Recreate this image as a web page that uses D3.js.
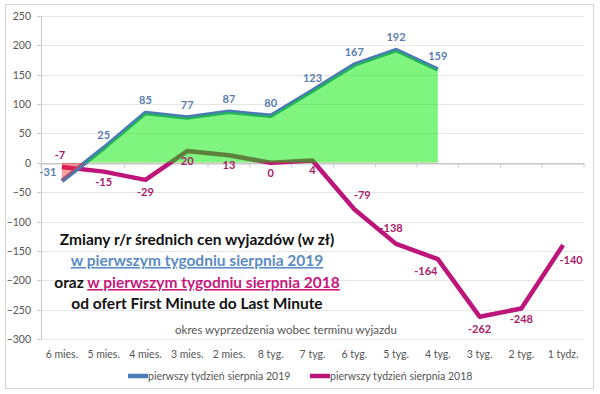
<!DOCTYPE html>
<html><head><meta charset="utf-8">
<script src="https://cdn.jsdelivr.net/npm/d3@7"></script>
<style>
html,body{margin:0;padding:0;background:#fff;}
svg{display:block;font-family:Lato,"Liberation Sans",sans-serif;}
</style></head>
<body><svg id="c" width="600" height="394"></svg>
<script>
const categories = ["6 mies.","5 mies.","4 mies.","3 mies.","2 mies.","8 tyg.","7 tyg.","6 tyg.","5 tyg.","4 tyg.","3 tyg.","2 tyg.","1 tydz."];
const values2019 = [-31,25,85,77,87,80,123,167,192,159];
const values2018 = [-7,-15,-29,20,13,0,4,-79,-138,-164,-262,-248,-140];
const yTicks = [250,200,150,100,50,0,-50,-100,-150,-200,-250,-300];
const seriesNames = ["pierwszy tydzień sierpnia 2019","pierwszy tydzień sierpnia 2018"];
// label placement (dx, dy) for labels
const off2018 = [[-2,-8],[0,14],[0,16],[0,14],[0,14],[0,14],[0,14],[8,-10],[-5,-12],[-12,16],[0,16],[0,15],[8,19]];
const off2019 = [[-14,-5],[0,-9],[0,-9],[0,-9],[0,-9],[0,-9],[0,-9],[0,-9],[0,-9],[0,-9]];

const blue = "#4a7ab5", mag = "#bd157a";
const svg = d3.select("#c");
svg.append("rect").attr("x",5.5).attr("y",4.5).attr("width",588).attr("height",384)
  .attr("fill","#fff").attr("stroke","#d4d4d4");

const x = d3.scaleBand().domain(categories).range([41,584]);
const y = d3.scaleLinear().domain([-300,250]).range([339,16]);
const cx = i => x(categories[i]) + x.bandwidth()/2;

// gridlines
svg.append("g").selectAll("line").data(yTicks).join("line")
  .attr("x1",41).attr("x2",584).attr("y1",d=>Math.round(y(d))+0.5).attr("y2",d=>Math.round(y(d))+0.5)
  .attr("stroke",d=>d===0?"#c8c8c8":"#e6e6e6");

// y axis
const ya = svg.append("g").attr("transform","translate(41,0)")
  .call(d3.axisLeft(y).tickValues(yTicks).tickSize(4).tickPadding(6));
ya.select(".domain").attr("stroke","#c8c8c8");
ya.selectAll(".tick line").attr("stroke","#c8c8c8");
ya.selectAll(".tick text").attr("font-size",10.5).attr("fill","#555").attr("font-family","Lato");
ya.selectAll(".tick").attr("transform",d=>`translate(0,${Math.round(y(d))+0.5})`);

// x axis ticks at zero line
const xa = svg.append("g").attr("transform",`translate(0,${Math.round(y(0))+0.5})`)
  .call(d3.axisBottom(x).tickSize(0).tickFormat(""));
xa.select(".domain").attr("stroke","#c8c8c8");
const bounds = categories.map((c)=>x(c)).concat([584]);
xa.selectAll(".bt").data(bounds).join("line").attr("class","bt")
  .attr("x1",d=>d).attr("x2",d=>d).attr("y1",0).attr("y2",4).attr("stroke","#c8c8c8");
// category labels at bottom
svg.append("g").selectAll("text").data(categories).join("text")
  .attr("x",(d,i)=>cx(i)).attr("y",358).attr("text-anchor","middle")
  .attr("font-size",10.5).attr("fill","#555").text(d=>d);

// lines
const line = d3.line().x((d,i)=>cx(i)).y(d=>y(d));
svg.append("path").datum(values2018).attr("d",line).attr("fill","none")
  .attr("stroke",mag).attr("stroke-width",4.5).attr("stroke-linejoin","round");
svg.append("path").datum(values2019).attr("d",line).attr("fill","none")
  .attr("stroke",blue).attr("stroke-width",4.5).attr("stroke-linejoin","round");

// area of 2019 with green above zero, red below zero
const area = d3.area().x((d,i)=>cx(i)).y0(y(0)).y1(d=>y(d));
const defs = svg.append("defs");
defs.append("clipPath").attr("id","above").append("rect").attr("x",0).attr("y",0).attr("width",600).attr("height",y(0));
defs.append("clipPath").attr("id","below").append("rect").attr("x",0).attr("y",y(0)).attr("width",600).attr("height",400);
svg.append("path").datum(values2019).attr("d",area).attr("fill","rgba(0,235,0,0.5)").attr("clip-path","url(#above)");
svg.append("path").datum(values2019).attr("d",area).attr("fill","rgba(255,40,40,0.45)").attr("clip-path","url(#below)");

// data labels
svg.append("g").selectAll("text").data(values2019).join("text")
  .attr("x",(d,i)=>cx(i)+off2019[i][0]).attr("y",(d,i)=>y(d)+off2019[i][1])
  .attr("text-anchor","middle").attr("font-size",11).attr("font-weight","bold").attr("fill","#5a7eae").text(d=>d);
svg.append("g").selectAll("text").data(values2018).join("text")
  .attr("x",(d,i)=>cx(i)+off2018[i][0]).attr("y",(d,i)=>y(d)+off2018[i][1])
  .attr("text-anchor","middle").attr("font-size",11).attr("font-weight","bold").attr("fill","#a8206a").text(d=>d);

// title block
const tb = svg.append("text").attr("text-anchor","middle").attr("font-weight","bold").attr("font-size",15.5).attr("fill","#111");
tb.append("tspan").attr("x",197).attr("y",245).text("Zmiany r/r średnich cen wyjazdów (w zł)");
tb.append("tspan").attr("x",197).attr("y",266).attr("fill","#5b8bc4").attr("text-decoration","underline").text("w pierwszym tygodniu sierpnia 2019");
const l3 = svg.append("text").attr("text-anchor","middle").attr("font-weight","bold").attr("font-size",15.5).attr("fill","#111").attr("x",197).attr("y",288);
l3.append("tspan").text("oraz ");
l3.append("tspan").attr("fill","#c8187c").attr("text-decoration","underline").text("w pierwszym tygodniu sierpnia 2018");
svg.append("text").attr("text-anchor","middle").attr("font-weight","bold").attr("font-size",15.5).attr("fill","#111")
  .attr("x",197).attr("y",309).text("od ofert First Minute do Last Minute");

svg.append("text").attr("x",286).attr("y",334).attr("text-anchor","middle").attr("font-size",11.5).attr("fill","#555")
  .text("okres wyprzedzenia  wobec terminu wyjazdu");

// legend
const lg = svg.append("g");
const lx = [128, 310], cols=[blue,mag];
seriesNames.forEach((n,i)=>{
  lg.append("line").attr("x1",lx[i]).attr("x2",lx[i]+20).attr("y1",376).attr("y2",376).attr("stroke",cols[i]).attr("stroke-width",4.5);
  lg.append("text").attr("x",lx[i]+20).attr("y",380).attr("font-size",10.5).attr("fill","#555").text(n);
});
</script></body></html>
